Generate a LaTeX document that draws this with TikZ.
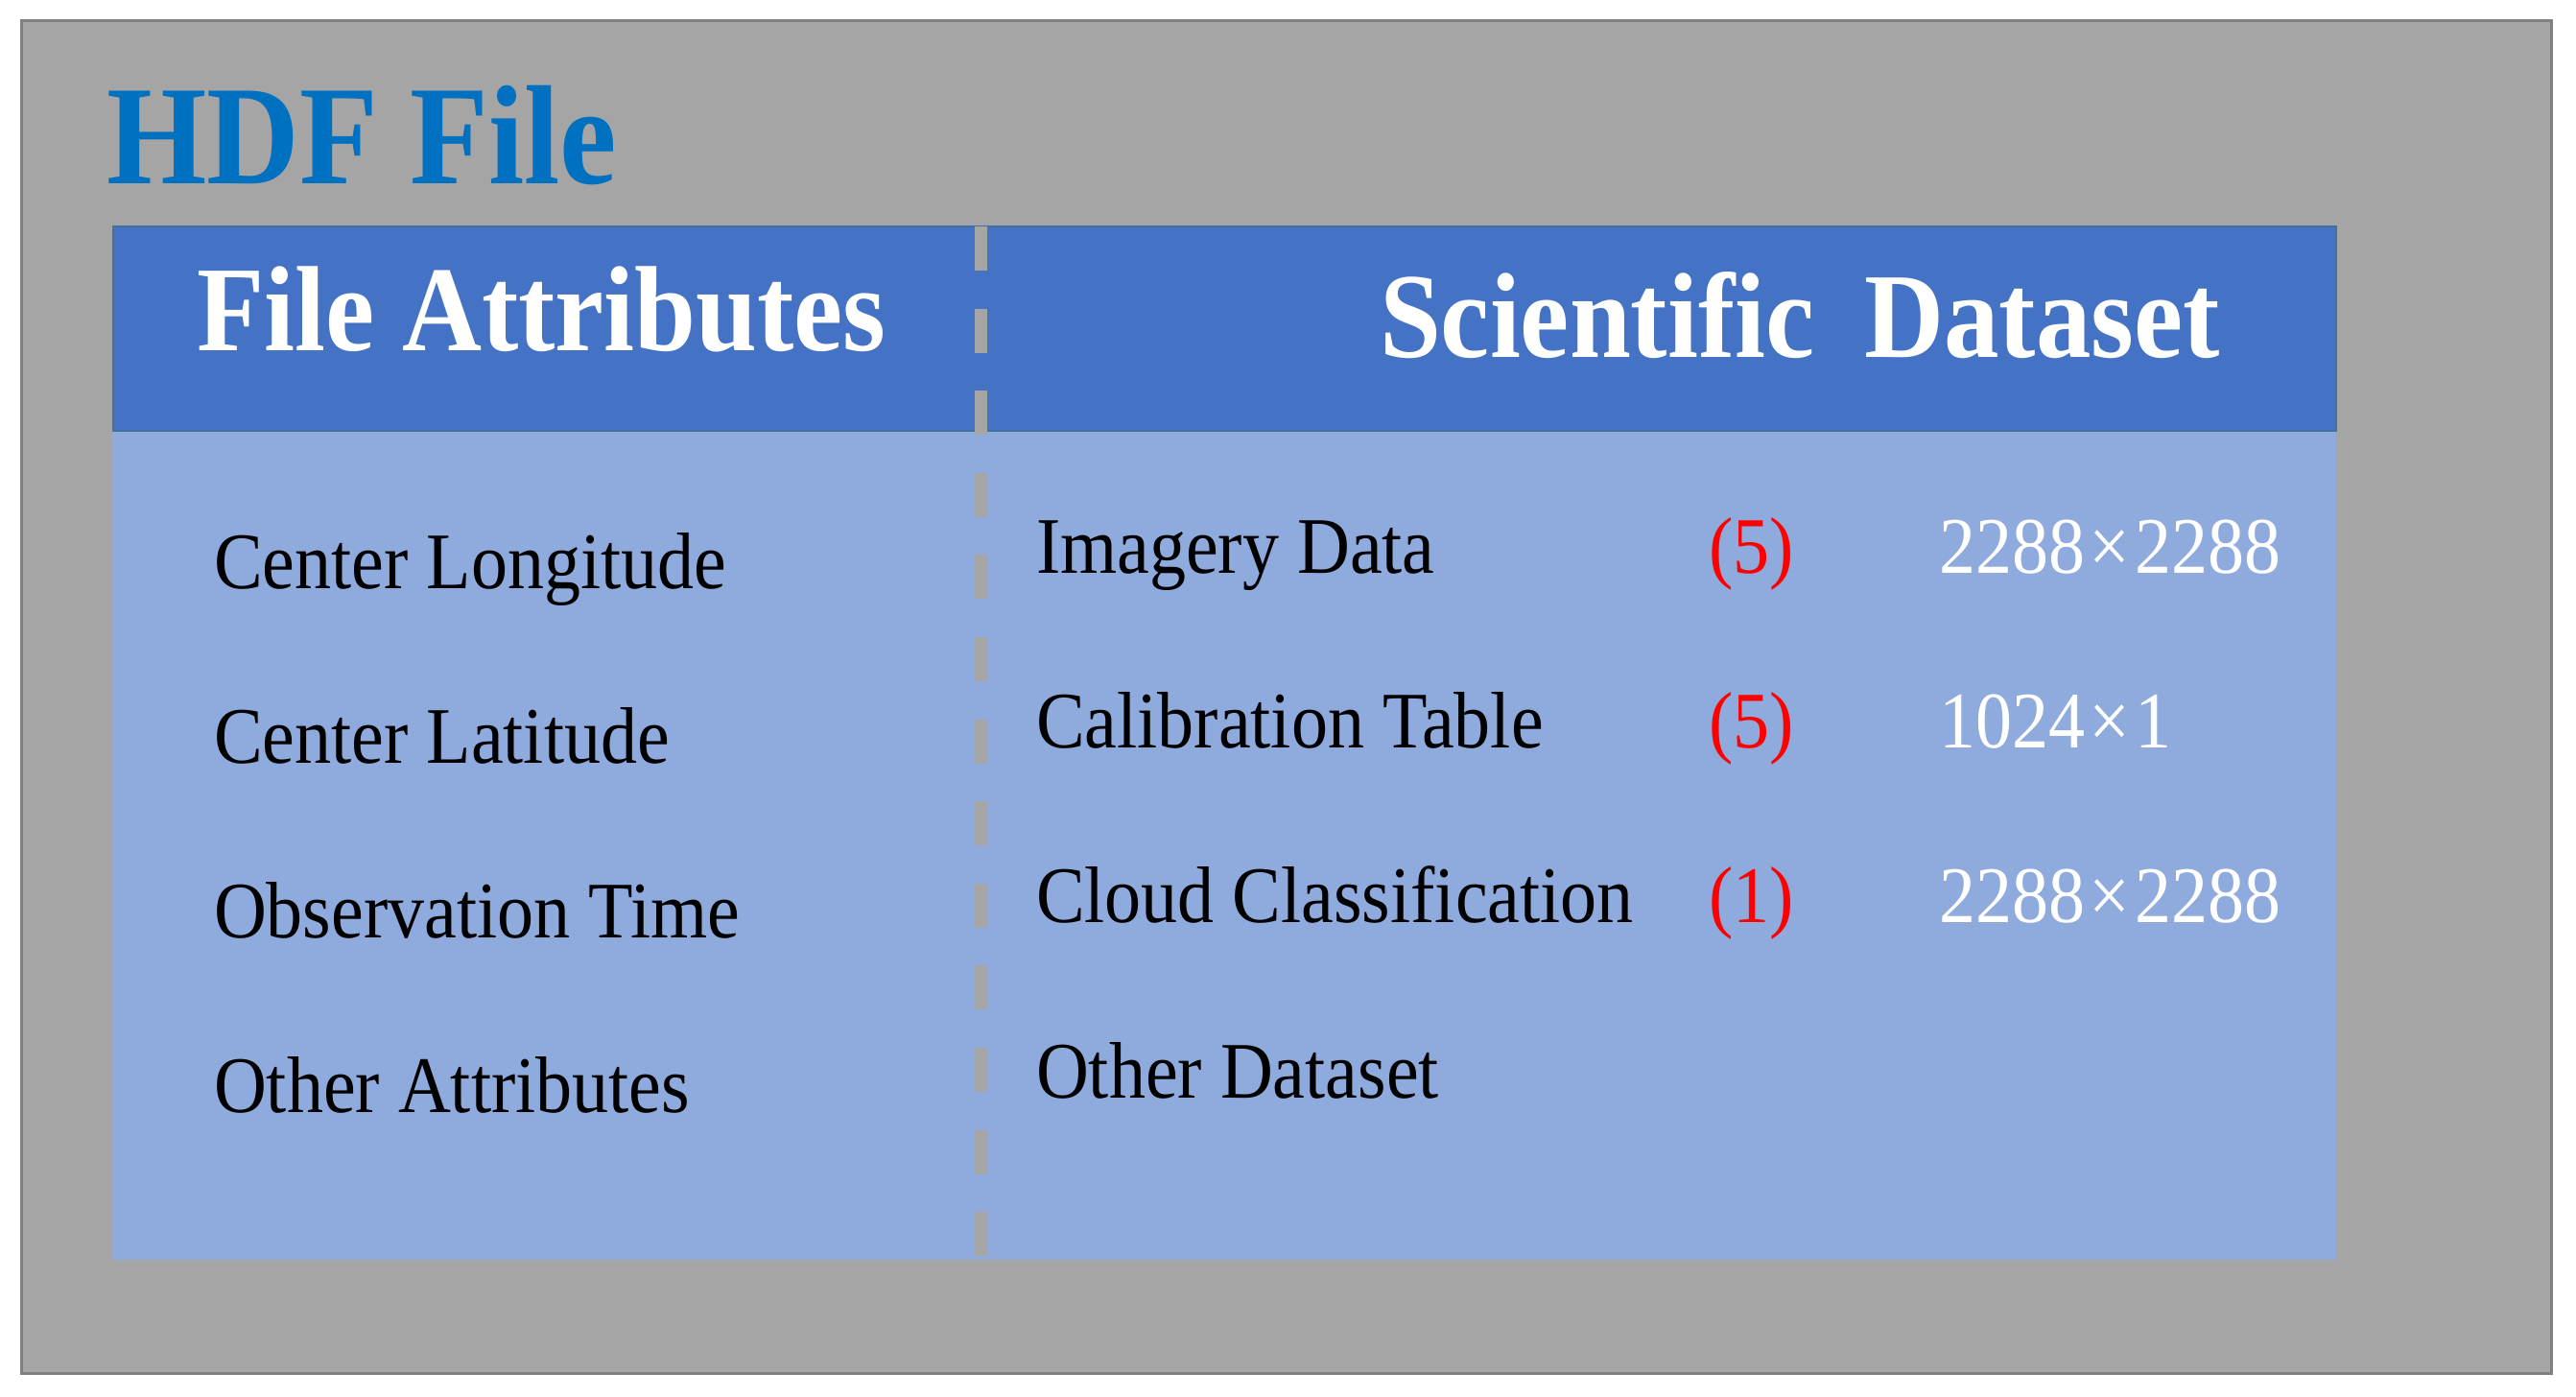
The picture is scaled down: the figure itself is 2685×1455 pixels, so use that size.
\documentclass[tikz,border=0pt]{standalone}
\usepackage{fontspec}
\setmainfont{Liberation Serif}
\usepackage{graphicx}
\definecolor{outergray}{HTML}{A5A5A5}
\definecolor{outerline}{HTML}{808080}
\definecolor{headblue}{HTML}{4472C4}
\definecolor{headline}{HTML}{41719C}
\definecolor{bodyblue}{HTML}{8FAADC}
\definecolor{titleblue}{HTML}{0070C0}
\definecolor{numred}{HTML}{FF0000}
\newcommand{\mystretch}[1]{\scalebox{1}[1.1]{#1}}
\newcommand{\mytimes}{\hspace{1.2pt}×\hspace{1.2pt}}
\begin{document}
\begin{tikzpicture}[x=0.25pt,y=-0.25pt,
  txt/.style={anchor=base west,inner sep=0pt,outer sep=0pt},
  item/.style={txt,font=\fontsize{19pt}{22pt}\selectfont,text=black},
  num/.style={item,text=numred},
  dim/.style={item,text=white},
  head/.style={txt,font=\fontsize{28.75pt}{34pt}\selectfont\bfseries,text=white},
  divider/.style={draw=outergray,line width=3.25pt,dash pattern=on 11.5pt off 9.9pt}]
\useasboundingbox (0,0) rectangle (2685,1455);
\fill[white] (0,0) rectangle (2685,1455);
% outer frame
\fill[outergray] (22,22) rectangle (2659,1431);
\draw[outerline,line width=0.75pt] (22,22) rectangle (2659,1431);
% title
\node[txt,font=\fontsize{33.5pt}{40pt}\selectfont\bfseries,text=titleblue] (title) at (111,192) {\mystretch{HDF File}};
% body and header
\fill[bodyblue] (118,449) rectangle (2435,1313);
\filldraw[fill=headblue,draw=headline,line width=0.5pt] (118,236) rectangle (2435,449);
% divider
\coordinate (dtop) at (1022,236);
\coordinate (dbot) at (1022,1313);
\draw[divider] (dtop) -- (dbot);
% headers
\node[head] (fa) at (205,365) {\mystretch{File Attributes}};
\node[head] (sd) at (1438,372) {\mystretch{Scientific\hspace{0.45em}Dataset}};
% left column
\node[item] (l1) at (223,613) {\mystretch{Center Longitude}};
\node[item] (l2) at (223,795) {\mystretch{Center Latitude}};
\node[item] (l3) at (223,977) {\mystretch{Observation Time}};
\node[item] (l4) at (223,1159) {\mystretch{Other Attributes}};
% right column
\node[item] (r1) at (1080,597) {\mystretch{Imagery Data}};
\node[item] (r2) at (1080,779) {\mystretch{Calibration Table}};
\node[item] (r3) at (1080,961) {\mystretch{Cloud Classification}};
\node[item] (r4) at (1080,1144) {\mystretch{Other Dataset}};
% counts
\node[num] (n1) at (1781,597) {\mystretch{(5)}};
\node[num] (n2) at (1781,779) {\mystretch{(5)}};
\node[num] (n3) at (1781,961) {\mystretch{(1)}};
% dimensions
\node[dim] (d1) at (2021,597) {\mystretch{2288\mytimes 2288}};
\node[dim] (d2) at (2021,779) {\mystretch{1024\mytimes 1}};
\node[dim] (d3) at (2021,961) {\mystretch{2288\mytimes 2288}};
\end{tikzpicture}
\end{document}
